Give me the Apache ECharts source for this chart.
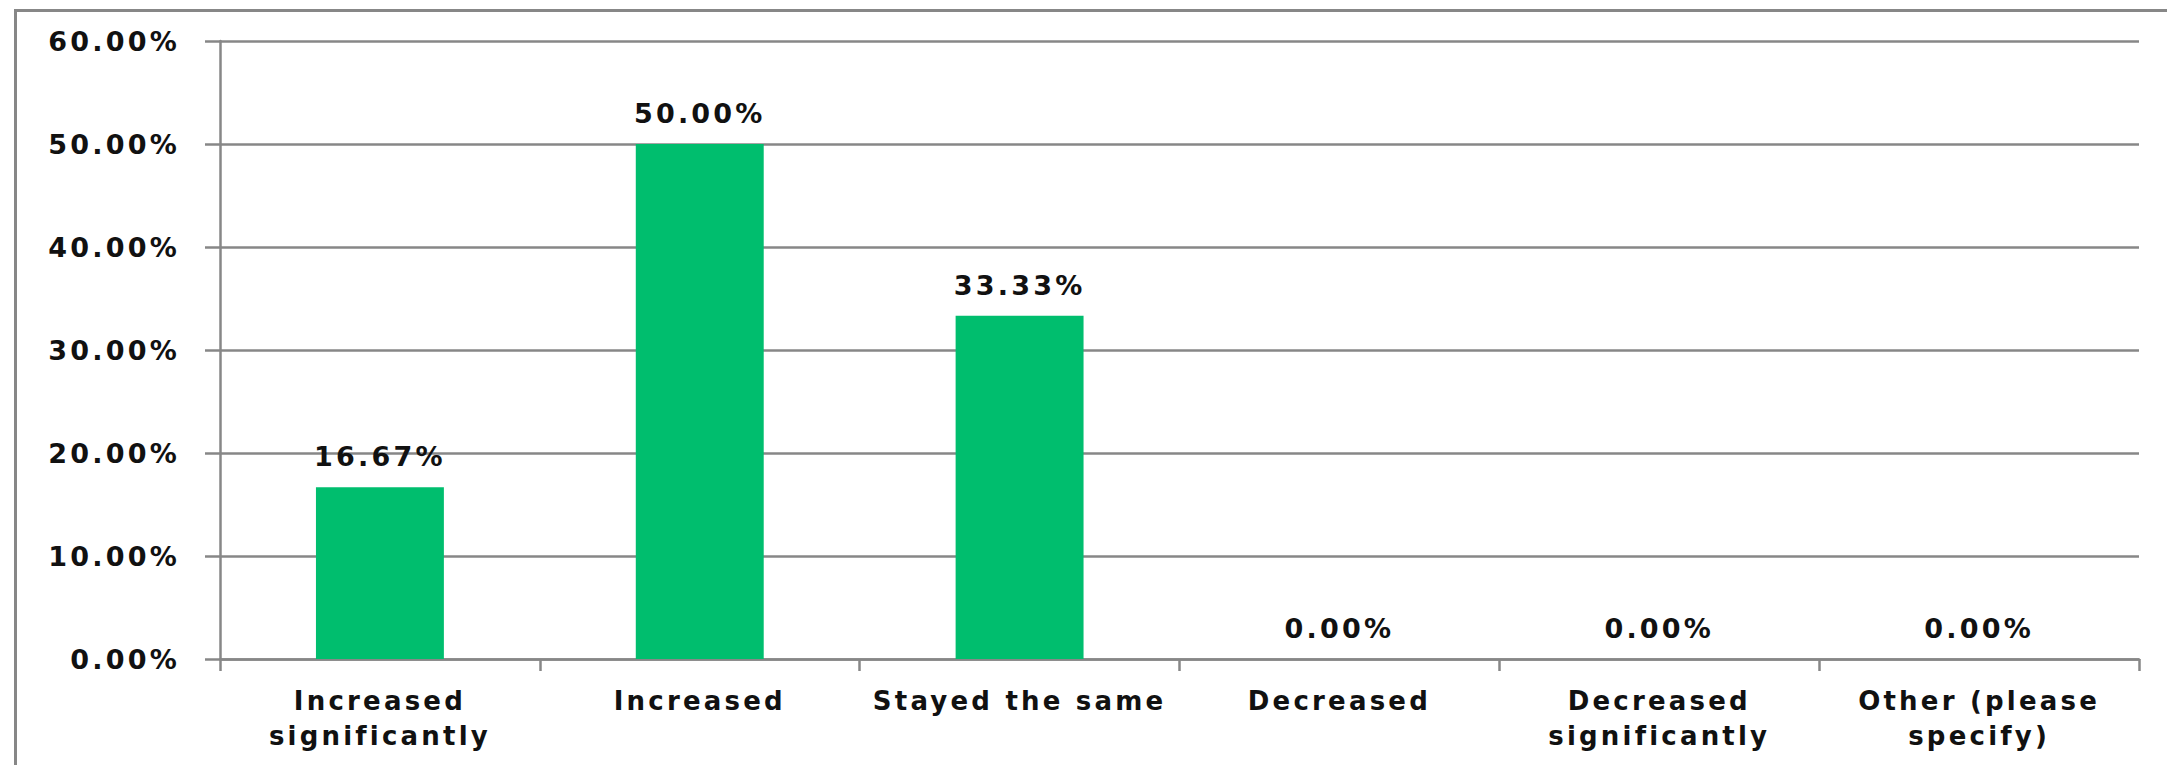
<!DOCTYPE html>
<html>
<head>
<meta charset="utf-8">
<style>
  html, body { margin: 0; padding: 0; background: #ffffff; }
  #chart { width: 2167px; height: 765px; }
  #chart text { letter-spacing: 3.2px; }
</style>
<script src="https://cdn.jsdelivr.net/npm/echarts@6/dist/echarts.min.js"></script>
</head>
<body>
<div id="chart"></div>
<script>
// Survey responses: share of respondents per answer (percent)
const categories = [
  'Increased\nsignificantly',
  'Increased',
  'Stayed the same',
  'Decreased',
  'Decreased\nsignificantly',
  'Other (please\nspecify)'
];
const shares = [16.67, 50.00, 33.33, 0.00, 0.00, 0.00];
const yTicks = { min: 0, max: 60, interval: 10 };

const FONT = '"DejaVu Sans", Verdana, sans-serif';
const GRAY = '#878787';
const pct = v => Number(v).toFixed(2) + '%';

const chart = echarts.init(document.getElementById('chart'), null, { renderer: 'svg' });

chart.setOption({
  backgroundColor: '#ffffff',
  animation: false,
  graphic: [{
    type: 'rect',
    left: 13, top: 8,
    shape: { width: 2300, height: 900 },
    style: { fill: 'none', stroke: GRAY, lineWidth: 3 },
    silent: true, z: 0
  }],
  grid: { left: 220, right: 28, top: 41, bottom: 106, containLabel: false },
  xAxis: {
    type: 'category',
    data: categories,
    axisLine: { lineStyle: { color: GRAY, width: 2.5 } },
    axisTick: { show: true, length: 12, lineStyle: { color: GRAY, width: 2.5 } },
    axisLabel: {
      margin: 24,
      fontFamily: FONT,
      fontWeight: 'bold',
      fontSize: 26,
      lineHeight: 35,
      color: '#111111',
      interval: 0
    }
  },
  yAxis: {
    type: 'value',
    min: yTicks.min, max: yTicks.max, interval: yTicks.interval,
    axisLine: { show: true, lineStyle: { color: GRAY, width: 2.5 } },
    axisTick: { show: true, length: 15, lineStyle: { color: GRAY, width: 2.5 } },
    splitLine: { show: true, lineStyle: { color: GRAY, width: 2.5 } },
    axisLabel: {
      margin: 40,
      fontFamily: FONT,
      fontWeight: 'bold',
      fontSize: 27,
      color: '#111111',
      formatter: pct
    }
  },
  series: [{
    type: 'bar',
    data: shares,
    barWidth: '40%',
    itemStyle: { color: '#00BE6E' },
    label: {
      show: true,
      position: 'top',
      distance: 17,
      fontFamily: FONT,
      fontWeight: 'bold',
      fontSize: 27,
      color: '#111111',
      formatter: p => pct(p.value)
    }
  }]
});
</script>
</body>
</html>
